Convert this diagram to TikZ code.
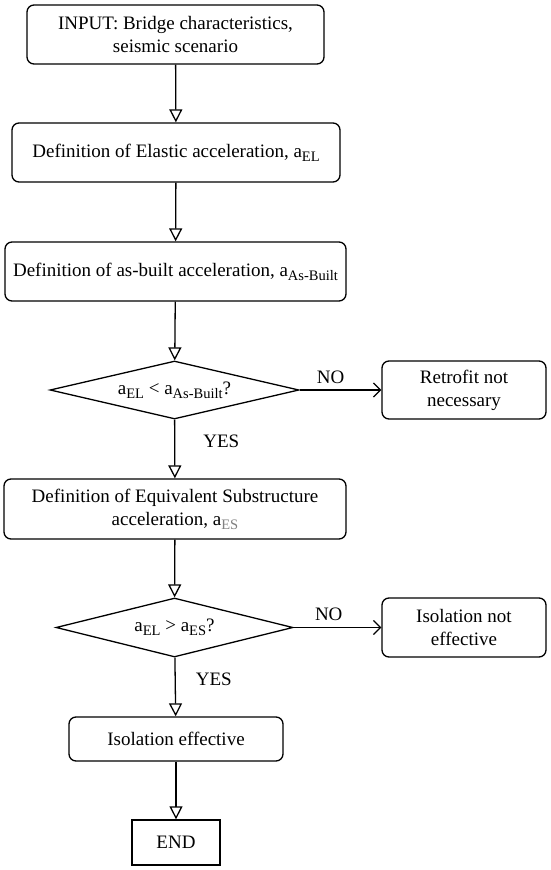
\documentclass[tikz,border=0pt]{standalone}
\usepackage{fontspec}
\setmainfont{Liberation Serif}
\usetikzlibrary{shapes.geometric,arrows.meta}
\newcommand\subs[1]{\raisebox{-0.45ex}{\fontsize{14.5}{15}\selectfont #1}}
\begin{document}
\begin{tikzpicture}[x=1pt,y=-1pt,
  every node/.style={font=\fontsize{19}{23}\selectfont},
  box/.style={draw, rounded corners=7pt, line width=1.3pt, inner sep=0pt, align=center},
  sqbox/.style={draw, line width=1.3pt, inner sep=0pt, align=center},
  dia/.style={draw, diamond, shape aspect=4, line width=1.3pt, inner sep=0pt},
  flow/.style={line width=1.3pt, -{Triangle[open,length=13pt,width=13pt]}},
  side/.style={line width=1.3pt, -{Straight Barb[length=7pt,width=14pt]}},
  lbl/.style={inner sep=0pt}]
\useasboundingbox (0,0) rectangle (550,870);
\node[box, minimum width=297pt, minimum height=59pt] (in) at (175.5,34.5) {INPUT: Bridge characteristics,\\seismic scenario};
\node[box, minimum width=328pt, minimum height=59pt] (el) at (176,152.5) {Definition of Elastic acceleration, a\subs{EL}};
\node[box, minimum width=341pt, minimum height=59pt] (ab) at (175.5,271.5) {Definition of as-built acceleration, a\subs{As-Built}};
\node[dia, minimum width=249pt, minimum height=58pt] (d1) at (174.5,390) {a\subs{EL} < a\subs{As-Built}?};
\node[box, minimum width=164pt, minimum height=58pt] (rt) at (464,390) {Retrofit not\\necessary};
\node[box, minimum width=342pt, minimum height=60pt] (eq) at (175,509) {Definition of Equivalent Substructure\\acceleration, a\subs{\color{gray}ES}};
\node[dia, minimum width=237pt, minimum height=59pt] (d2) at (174.5,627.5) {a\subs{EL} > a\subs{ES}?};
\node[box, minimum width=164pt, minimum height=59pt] (ne) at (464,627.5) {Isolation not\\effective};
\node[box, minimum width=214pt, minimum height=44pt] (ie) at (176,739) {Isolation effective};
\node[sqbox, minimum width=88pt, minimum height=45pt] (end) at (176,842.5) {END};
\draw[flow] (in) -- (el);
\draw[flow] (el) -- (ab);
\draw[flow] (ab) -- (d1);
\draw[flow] (d1) -- (eq) node[lbl, pos=0.37, right=28pt] (y1) {YES};
\draw[side] (d1) -- (rt) node[lbl, pos=0.38, above=6pt] (n1) {NO};
\draw[flow] (eq) -- (d2);
\draw[side] (d2) -- (ne) node[lbl, pos=0.4, above=6pt] (n2) {NO};
\draw[flow] (d2) -- (ie) node[lbl, pos=0.37, right=20pt] (y2) {YES};
\draw[flow] (ie) -- (end);
\end{tikzpicture}
\end{document}
